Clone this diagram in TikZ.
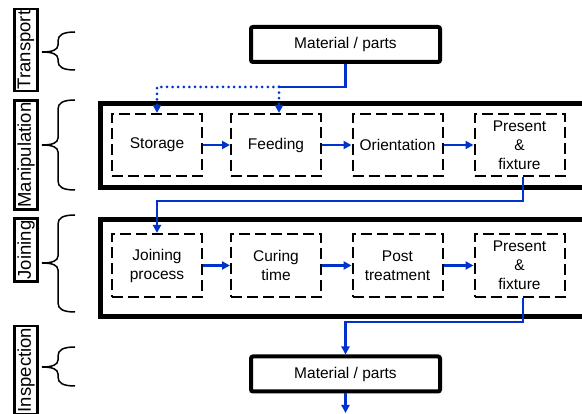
\documentclass[tikz,border=0pt]{standalone}
\usepackage{fontspec}
\setmainfont{Liberation Sans}
\usetikzlibrary{arrows.meta}
\definecolor{flowblue}{RGB}{0,51,204}
\tikzset{
  matbox/.style={draw, line width=4pt, rounded corners=2pt, minimum width=189pt, minimum height=35pt, inner sep=0pt, font=\fontsize{15.5}{19}\selectfont},
  stepbox/.style={draw, line width=2pt, dash pattern=on 11pt off 5pt, minimum width=90pt, minimum height=62pt, inner sep=0pt, align=center, font=\fontsize{15.5}{19}\selectfont},
  groupbox/.style={draw, line width=5pt, minimum width=520pt, inner sep=0pt, anchor=north west},
  sidelabel/.style={draw, line width=2.5pt, rotate=90, inner xsep=2pt, inner ysep=3pt, font=\fontsize{18.5}{20}\selectfont},
  bluearrow/.style={draw=flowblue, line width=2.2pt, -{Triangle[length=8pt,width=8pt]}},
  blueline/.style={draw=flowblue, line width=2.2pt},
  bluedots/.style={draw=flowblue, line width=3pt, line cap=round, dash pattern=on 0pt off 5.6pt, -{Triangle[length=8pt,width=8pt]}},
  bracepath/.style={draw, line width=1.5pt},
}
\newcommand{\sidebrace}[3]{%
  \draw[bracepath] (75,#1) .. controls (63,#1) and (58,#1+3) .. (58,#1+9)
    -- (58,#2-7) .. controls (58,#2-2) and (52,#2) .. (42,#2)
    .. controls (52,#2) and (58,#2+2) .. (58,#2+7)
    -- (58,#3-9) .. controls (58,#3-3) and (63,#3) .. (75,#3);}
\begin{document}
\begin{tikzpicture}[x=1pt,y=-1pt]
\useasboundingbox (0,0) rectangle (582,414);
\clip (0,0) rectangle (582,414);

% side labels
\node[sidelabel] (lt) at (26,50) {Transport};
\node[sidelabel] (lm) at (26,155) {Manipulation};
\node[sidelabel] (lj) at (26,250) {Joining};
\node[sidelabel] (li) at (26,370) {Inspection};

% braces
\sidebrace{32}{52}{70}
\sidebrace{100}{145}{190}
\sidebrace{215}{263}{312}
\sidebrace{347}{367}{386}

% group boxes
\node[groupbox, minimum height=84pt] (grpm) at (97.5,101.5) {};
\node[groupbox, minimum height=97pt] (grpj) at (97.5,217.5) {};

% material boxes
\node[matbox] (mat1) at (345.5,44.5) {Material / parts};
\node[matbox] (mat2) at (345.5,374) {Material / parts};

% manipulation row
\node[stepbox] (stor) at (157,145) {Storage};
\node[stepbox] (feed) at (276,145) {Feeding};
\node[stepbox] (orie) at (397.5,145) {Orientation};
\node[stepbox] (pres1) at (519.5,145) {Present\\\&\\fixture};

% joining row
\node[stepbox, minimum height=63pt] (join) at (157,265.5) {Joining\\process};
\node[stepbox, minimum height=63pt] (cure) at (276,265.5) {Curing\\time};
\node[stepbox, minimum height=63pt] (post) at (397.5,265.5) {Post\\treatment};
\node[stepbox, minimum height=63pt] (pres2) at (519.5,265.5) {Present\\\&\\fixture};

% connectors
\coordinate (split) at (279,87);
\coordinate (endpt) at (345.5,413);
\draw[blueline] (mat1.south) |- (split);
\draw[bluedots] (split) -| (stor.north);
\draw[bluedots] (split) -- (split |- feed.north);

\draw[bluearrow] (stor) -- (feed);
\draw[bluearrow] (feed) -- (orie);
\draw[bluearrow] (orie) -- (pres1);

\draw[bluearrow] ([xshift=3.5pt]pres1.south) -- ++(0,24) -| (join.north);

\draw[bluearrow] (join) -- (cure);
\draw[bluearrow] (cure) -- (post);
\draw[bluearrow] (post) -- (pres2);

\draw[bluearrow] ([xshift=3.5pt]pres2.south) -- ++(0,24) -| (mat2.north);
\draw[bluearrow] (mat2.south) -- (endpt);
\end{tikzpicture}
\end{document}
